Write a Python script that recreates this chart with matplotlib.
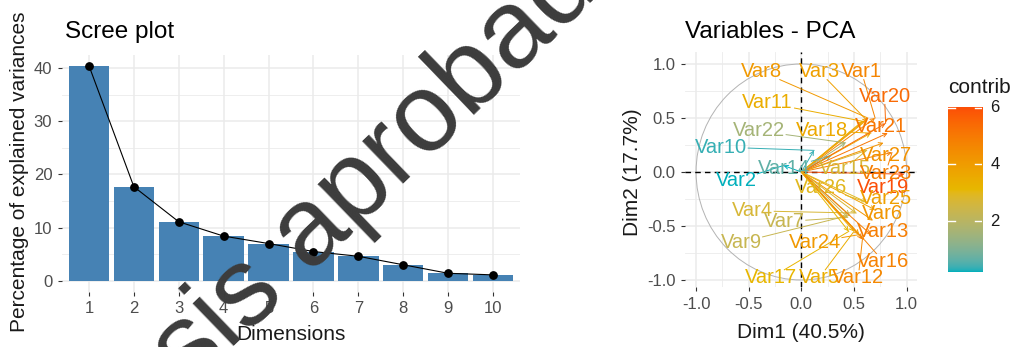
import matplotlib.pyplot as plt
import numpy as np
from matplotlib.colors import ListedColormap, Normalize, to_rgb
from matplotlib.patches import Circle

plt.rcParams['font.family'] = ['Liberation Sans', 'DejaVu Sans']

# Scree plot data
dims = [1, 2, 3, 4, 5, 6, 7, 8, 9, 10]
explained = [40.5, 17.7, 11.1, 8.4, 7.0, 5.5, 4.6, 3.0, 1.4, 1.1]

# Variables on the first two dimensions
var_names = ['Var%d' % i for i in range(1, 28)]
dim1 = [0.70, -0.17, 0.62, 0.52, 0.50, 0.68, 0.44, 0.63, 0.46, 0.12,
        0.58, 0.58, 0.66, 0.28, 0.62, 0.60, 0.45, 0.66, 0.97, 0.80,
        0.82, 0.42, 0.86, 0.55, 0.70, 0.62, 0.78]
dim2 = [0.50, 0.06, 0.48, -0.38, -0.55, -0.45, -0.42, 0.50, -0.40, 0.20,
        0.47, -0.62, -0.58, 0.15, 0.20, -0.63, -0.55, 0.36, -0.02, 0.45,
        0.36, 0.27, 0.18, -0.58, -0.35, -0.28, 0.27]
contrib = [4.7, 0.2, 3.9, 2.7, 3.5, 4.2, 2.3, 4.1, 2.3, 0.35,
           3.5, 4.6, 4.9, 0.65, 2.7, 4.8, 3.2, 3.6, 6.03, 5.4,
           5.1, 1.6, 4.9, 4.1, 3.9, 2.95, 4.3]

# where the (repelled) labels sit, in data units
label_xy = {
    'Var1': (0.57, 0.93), 'Var2': (-0.62, -0.08), 'Var3': (0.17, 0.93),
    'Var4': (-0.46, -0.36), 'Var5': (0.17, -0.98), 'Var6': (0.77, -0.38),
    'Var7': (-0.16, -0.46), 'Var8': (-0.38, 0.93), 'Var9': (-0.57, -0.65),
    'Var10': (-0.76, 0.23), 'Var11': (-0.32, 0.64), 'Var12': (0.54, -0.98),
    'Var13': (0.78, -0.55), 'Var14': (-0.16, 0.03), 'Var15': (0.41, 0.03),
    'Var16': (0.78, -0.83), 'Var17': (-0.29, -0.98), 'Var18': (0.20, 0.38),
    'Var19': (0.78, -0.14), 'Var20': (0.79, 0.70), 'Var21': (0.76, 0.42),
    'Var22': (-0.40, 0.38), 'Var23': (0.80, -0.01), 'Var24': (0.13, -0.65),
    'Var25': (0.80, -0.25), 'Var26': (0.19, -0.14), 'Var27': (0.80, 0.15),
}

W, H = 1016, 347
fig = plt.figure(figsize=(W / 100, H / 100), dpi=100)

tick_col = '#4D4D4D'
grid_col = '#EBEBEB'


# gradient interpolated in Lab space, like ggplot's gradientn
def rgb2lab(rgb):
    c = np.asarray(rgb, float)
    lin = np.where(c > 0.04045, ((c + 0.055) / 1.055) ** 2.4, c / 12.92)
    M = np.array([[0.4124, 0.3576, 0.1805], [0.2126, 0.7152, 0.0722],
                  [0.0193, 0.1192, 0.9505]])
    xyz = M @ lin / np.array([0.95047, 1.0, 1.08883])
    f = np.where(xyz > (6 / 29) ** 3, np.cbrt(xyz), xyz / (3 * (6 / 29) ** 2) + 4 / 29)
    return np.array([116 * f[1] - 16, 500 * (f[0] - f[1]), 200 * (f[1] - f[2])])


def lab2rgb(lab):
    L, a, b = lab
    fy = (L + 16) / 116
    f = np.array([fy + a / 500, fy, fy - b / 200])
    xyz = np.where(f > 6 / 29, f ** 3, 3 * (6 / 29) ** 2 * (f - 4 / 29))
    xyz = xyz * np.array([0.95047, 1.0, 1.08883])
    Minv = np.array([[3.2406, -1.5372, -0.4986], [-0.9689, 1.8758, 0.0415],
                     [0.0557, -0.2040, 1.0570]])
    lin = Minv @ xyz
    c = np.where(lin > 0.0031308, 1.055 * np.clip(lin, 0, None) ** (1 / 2.4) - 0.055,
                 12.92 * lin)
    return np.clip(c, 0, 1)


stops = [rgb2lab(to_rgb(h)) for h in ['#00AFBB', '#E7B800', '#FC4E07']]
cols = []
for t in np.linspace(0, 1, 256):
    if t <= 0.5:
        u = t / 0.5
        lab = stops[0] * (1 - u) + stops[1] * u
    else:
        u = (t - 0.5) / 0.5
        lab = stops[1] * (1 - u) + stops[2] * u
    cols.append(lab2rgb(lab))
cmap = ListedColormap(cols)
norm = Normalize(vmin=min(contrib), vmax=max(contrib))


def style_axes(ax):
    for s in ax.spines.values():
        s.set_visible(False)
    ax.tick_params(length=3, width=0.8, color='#333333', labelcolor=tick_col,
                   labelsize=12, pad=4)
    ax.set_axisbelow(True)


# ---------------- Scree plot ----------------
ax1 = fig.add_axes([62 / W, 1 - 291.5 / H, 458 / W, 236.5 / H])
style_axes(ax1)
ax1.set_xlim(0.4, 10.6)
ax1.set_ylim(-2.03, 42.5)
for v in [5, 15, 25, 35]:
    ax1.axhline(v, color=grid_col, lw=0.6, zorder=0)
for v in [0, 10, 20, 30, 40]:
    ax1.axhline(v, color=grid_col, lw=1.1, zorder=0)
for d in dims:
    ax1.axvline(d, color=grid_col, lw=1.1, zorder=0)
ax1.bar(dims, explained, width=0.9, color='steelblue', zorder=2)
ax1.plot(dims, explained, color='black', lw=0.8, zorder=3)
ax1.scatter(dims, explained, s=28, color='black', zorder=4)
ax1.set_xticks(dims)
ax1.set_yticks([0, 10, 20, 30, 40])

fig.text(65 / W, 1 - 38 / H, 'Scree plot', fontsize=17.5, va='baseline', ha='left')
fig.text(291 / W, 1 - 340 / H, 'Dimensions', fontsize=15, va='baseline', ha='center',
         color='#1A1A1A')
fig.text(20 / W, 1 - 172 / H, 'Percentage of explained variances', fontsize=15,
         rotation=90, va='center', ha='center', color='#1A1A1A')

# ---------------- Variables - PCA ----------------
ax2 = fig.add_axes([685 / W, 1 - 287 / H, 232 / W, 235 / H])
style_axes(ax2)
ax2.set_xlim(-1.105, 1.098)
ax2.set_ylim(-1.065, 1.111)
for v in [-0.75, -0.25, 0.25, 0.75]:
    ax2.axhline(v, color=grid_col, lw=0.6, zorder=0)
    ax2.axvline(v, color=grid_col, lw=0.6, zorder=0)
for v in [-1, -0.5, 0, 0.5, 1]:
    ax2.axhline(v, color=grid_col, lw=1.1, zorder=0)
    ax2.axvline(v, color=grid_col, lw=1.1, zorder=0)
ax2.set_xticks([-1, -0.5, 0, 0.5, 1])
ax2.set_yticks([-1, -0.5, 0, 0.5, 1])
ax2.set_xticklabels(['-1.0', '-0.5', '0.0', '0.5', '1.0'])
ax2.set_yticklabels(['-1.0', '-0.5', '0.0', '0.5', '1.0'])

ax2.add_patch(Circle((0, 0), 1, fill=False, ec='#B3B3B3', lw=0.7, zorder=1))
ax2.axhline(0, color='black', ls=(0, (4, 3)), lw=1.0, zorder=1)
ax2.axvline(0, color='black', ls=(0, (4, 3)), lw=1.0, zorder=1)

lab_fs = 14.5
px_per_unit_x = 232 / 2.203
px_per_unit_y = 235 / 2.176
font_px = lab_fs * 100 / 72

for name, x, y, c in zip(var_names, dim1, dim2, contrib):
    col = cmap(norm(c))
    ax2.annotate('', xy=(x, y), xytext=(0, 0),
                 arrowprops=dict(arrowstyle='->', color=col, lw=0.7,
                                 shrinkA=0, shrinkB=0, mutation_scale=7),
                 zorder=2)
    lx, ly = label_xy[name]
    ndig = len(name) - 3
    hw = (1.556 + 0.556 * ndig) * font_px / 2 / px_per_unit_x
    hh = 0.5 * font_px * 0.8 / px_per_unit_y
    dx, dy = x - lx, y - ly
    t = min(hw / abs(dx) if dx else 9, hh / abs(dy) if dy else 9)
    if t < 1:
        sx, sy = lx + t * dx, ly + t * dy
        if np.hypot(x - sx, y - sy) > 0.05:
            ax2.plot([sx, x], [sy, y], color=col, lw=0.7, zorder=2)
    ax2.text(lx, ly, name, color=col, fontsize=lab_fs, ha='center', va='center',
             zorder=5)

fig.text(685 / W, 1 - 38 / H, 'Variables - PCA', fontsize=17.5, va='baseline', ha='left')
fig.text(801 / W, 1 - 338 / H, 'Dim1 (40.5%)', fontsize=15, va='baseline', ha='center',
         color='#1A1A1A')
fig.text(632 / W, 1 - 172 / H, 'Dim2 (17.7%)', fontsize=15, rotation=90,
         va='center', ha='center', color='#1A1A1A')

# colour bar legend
cax = fig.add_axes([948 / W, 1 - 272 / H, 34 / W, 165 / H])
grad = np.linspace(norm.vmin, norm.vmax, 256).reshape(-1, 1)
cax.imshow(grad, aspect='auto', origin='lower', cmap=cmap, norm=norm,
           extent=[0, 1, norm.vmin, norm.vmax], interpolation='bilinear')
cax.set_xlim(0, 1)
cax.set_ylim(norm.vmin, norm.vmax)
for v in [2, 4, 6]:
    cax.plot([0, 0.2], [v, v], color='white', lw=1)
    cax.plot([0.8, 1], [v, v], color='white', lw=1)
    cax.text(1.25, v, str(v), fontsize=12, va='center', ha='left', color='#1A1A1A')
cax.set_axis_off()
fig.text(948 / W, 1 - 93 / H, 'contrib', fontsize=15, va='baseline', ha='left',
         color='#1A1A1A')

# watermark over the figure
fig.text(365 / W, 1 - 180 / H, 'tesis aprobada', fontsize=80, rotation=44,
         rotation_mode='anchor', ha='center', va='center', color='#3C3C3C',
         zorder=100)

fig.savefig('out.png', dpi=100)
